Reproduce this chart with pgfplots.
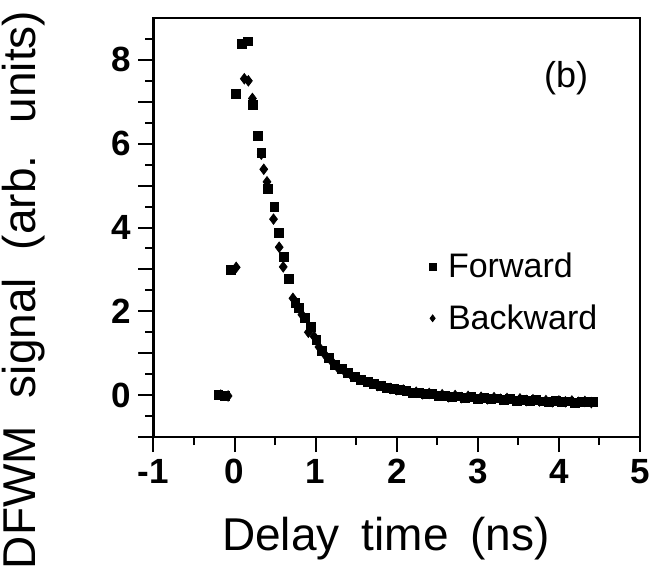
\documentclass[border=0pt]{standalone}
\usepackage{fontspec}
\setmainfont{Liberation Sans}
\usepackage{pgfplots}
\pgfplotsset{compat=1.18}

\begin{document}
\begin{tikzpicture}
\path[use as bounding box] (-76.75pt,-69pt) rectangle (250.25pt,218.5pt);
\begin{axis}[
  scale only axis,
  width=243.25pt, height=209.5pt,
  xmin=-1, xmax=5, ymin=-1, ymax=9,
  axis line style={line width=1.1pt},
  tick align=outside, tick pos=left,
  xtick={-1,0,...,5}, minor x tick num=1,
  ytick={0,2,...,8},
  extra y ticks={-1,1,3,5,7}, extra y tick labels={},
  minor ytick={-0.5,0.5,...,8.5},
  major tick length=7.5pt, minor tick length=4pt,
  every tick/.style={black, line width=1pt},
  ticklabel style={font=\fontsize{17.5}{20}\selectfont\bfseries},
  /pgf/number format/assume math mode=true,
  xlabel={Delay\hspace{0.2em} time\hspace{0.2em} (ns)},
  ylabel={DFWM\hspace{0.33em} signal\hspace{0.33em} (arb.\hspace{0.33em} units)},
  label style={font=\fontsize{23}{27}\selectfont},
  xlabel style={at={(axis description cs:0.478,-0.27)}, anchor=base},
  ylabel style={at={(axis description cs:-0.268,0.351)}, anchor=center, rotate=0},
  legend style={at={(axis description cs:0.566,0.45)}, anchor=north west,
    draw=none, fill=none, font=\fontsize{17}{20}\selectfont,
    row sep=8pt, column sep=4pt, inner sep=0pt},
  legend image post style={mark size=1.7pt},
  legend cell align=left,
]

\addplot[only marks, mark=square*, mark size=2.2pt] table {
x y
-0.20 0.00
-0.12 -0.02
-0.05 2.98
0.02 7.18
0.09 8.38
0.16 8.44
0.23 6.92
0.29 6.18
0.33 5.78
0.415 4.93
0.49 4.49
0.55 3.87
0.61 3.29
0.67 2.77
0.75 2.20
0.79 2.08
0.87 1.84
0.94 1.62
1.01 1.31
1.08 1.05
1.16 0.88
1.24 0.72
1.32 0.62
1.40 0.53
1.48 0.44
1.56 0.37
1.64 0.31
1.72 0.26
1.80 0.22
1.88 0.18
1.96 0.15
2.04 0.12
2.12 0.10
2.20 0.06
2.28 0.05
2.36 0.02
2.44 0.03
2.52 -0.02
2.60 -0.01
2.68 -0.05
2.76 -0.03
2.84 -0.07
2.92 -0.05
3.00 -0.09
3.08 -0.07
3.16 -0.10
3.24 -0.08
3.32 -0.11
3.40 -0.10
3.48 -0.13
3.56 -0.11
3.64 -0.14
3.72 -0.12
3.80 -0.15
3.88 -0.17
3.96 -0.14
4.04 -0.17
4.12 -0.15
4.20 -0.18
4.28 -0.16
4.36 -0.17
4.42 -0.16
};
\addlegendentry{Forward}

\addplot[only marks, mark=diamond*, mark size=2.6pt] table {
x y
-0.17 0.00
-0.08 -0.02
0.02 3.05
0.12 7.55
0.17 7.50
0.22 7.08
0.33 5.75
0.36 5.39
0.40 5.09
0.48 4.20
0.55 3.53
0.60 3.06
0.72 2.31
0.77 2.15
0.83 1.92
0.91 1.50
0.98 1.40
1.04 1.15
1.12 0.95
1.20 0.80
1.28 0.64
1.36 0.56
1.44 0.47
1.52 0.41
1.60 0.34
1.68 0.29
1.76 0.23
1.84 0.20
1.92 0.16
2.00 0.13
2.08 0.12
2.16 0.07
2.24 0.07
2.32 0.03
2.40 0.04
2.48 0.00
2.56 0.01
2.64 -0.04
2.72 -0.01
2.80 -0.06
2.88 -0.03
2.96 -0.07
3.04 -0.05
3.12 -0.09
3.20 -0.06
3.28 -0.10
3.36 -0.08
3.44 -0.12
3.52 -0.09
3.60 -0.13
3.68 -0.11
3.76 -0.14
3.84 -0.13
3.92 -0.16
4.00 -0.14
4.08 -0.16
4.16 -0.14
4.24 -0.17
4.32 -0.15
4.40 -0.18
};
\addlegendentry{Backward}

\node[font=\fontsize{18}{21}\selectfont] at (axis cs:4.09,7.57) {(b)};
\end{axis}
\end{tikzpicture}
\end{document}
